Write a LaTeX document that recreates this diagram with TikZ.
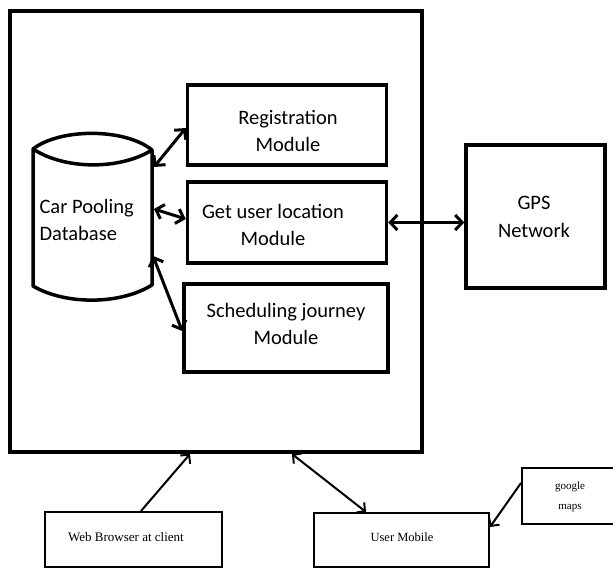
\documentclass[tikz,border=0pt]{standalone}
\usepackage{fontspec}
\setmainfont{Carlito}
\newfontfamily\tnr{Liberation Serif}
\usetikzlibrary{arrows.meta,calc}
\begin{document}
\begin{tikzpicture}[x=1pt,y=-1pt,
  box/.style={draw,line width=3.5pt,inner sep=0pt,align=center},
  lbl/.style={font=\fontsize{20.5}{27.5}\selectfont,align=center},
  smallbox/.style={draw,line width=2.5pt,inner sep=0pt,align=center},
  conn/.style={line width=3pt,{Straight Barb[length=7pt,width=15pt]}-{Straight Barb[length=7pt,width=15pt]}},
  thinconn/.style={line width=2pt},
  oneway/.style={thinconn,-{Straight Barb[length=6pt,width=13pt]}},
  twoway/.style={thinconn,{Straight Barb[length=6pt,width=13pt]}-{Straight Barb[length=6pt,width=13pt]}}
]
\useasboundingbox (0,0) rectangle (613,569);
\fill[white] (0,0) rectangle (613,569);

% outer system box
\node[draw,line width=4pt,minimum width=412pt,minimum height=441pt,inner sep=0pt] (sys) at (216,231.5) {};

% modules
\node[box,minimum width=199pt,minimum height=80pt] (reg) at (287,125) {};
\node[lbl] (regt) at (288,131) {Registration\\Module};
\node[box,minimum width=199pt,minimum height=81pt] (loc) at (287,222.5) {};
\node[lbl] (loct) at (273,225) {Get user location\\Module};
\node[box,minimum width=204pt,minimum height=88pt] (sch) at (286,328) {};
\node[lbl] (scht) at (286,324) {Scheduling journey\\Module};
\node[box,minimum width=139pt,minimum height=143pt] (gps) at (535.5,216.5) {};
\node[lbl] (gpst) at (534,217) {GPS\\Network};

% database cylinder
\node[minimum width=119pt,minimum height=167pt,inner sep=0pt] (db) at (92.5,216.5) {};
\draw[line width=3.5pt,line join=round]
  (33,149) .. controls (60,128) and (125,128) .. (152,150)
  .. controls (120,170) and (65,170) .. (33,149) -- (33,286)
  .. controls (65,305) and (120,305) .. (152,285) -- (152,150);
\node[lbl,align=left,anchor=west] (dbt) at (36,220) {Car Pooling\\Database};

% db connectors
\coordinate (dbA) at (154,167);
\coordinate (dbB) at (154,209);
\coordinate (dbC) at (153,256);
\draw[conn] (dbA) -- (reg.west |- 0,128);
\draw[conn] (dbB) -- (loc.west |- 0,219);
\draw[conn] (dbC) -- (sch.west |- 0,331);

% gps connector
\draw[conn] (loc.east) -- (loc.east -| gps.west);

% bottom boxes
\node[smallbox,minimum width=177pt,minimum height=55pt,font=\tnr\fontsize{13}{15}\selectfont] (web) at (133.5,539.5) {};
\node[font=\tnr\fontsize{13}{15}\selectfont] (webt) at (126,537) {Web Browser at client};
\node[smallbox,minimum width=175pt,minimum height=54pt] (mob) at (401.5,540) {};
\node[font=\tnr\fontsize{12.5}{15}\selectfont] (mobt) at (402,537) {User Mobile};
\node[smallbox,minimum width=95pt,minimum height=56pt] (gm) at (569.5,496) {};
\node[font=\tnr\fontsize{11}{20}\selectfont,align=center] (gmt) at (570,497) {google\\maps};

\coordinate (webT) at (141,511);
\coordinate (sysW) at (190,454);
\coordinate (sysM) at (292,454);
\coordinate (mobT) at (366,512);
\coordinate (gmL) at (521,483);
\coordinate (mobR) at (490,527);
\draw[oneway] (webT) -- (sysW);
\draw[twoway] (sysM) -- (mobT);
\draw[oneway] (gmL) -- (mobR);
\end{tikzpicture}
\end{document}
